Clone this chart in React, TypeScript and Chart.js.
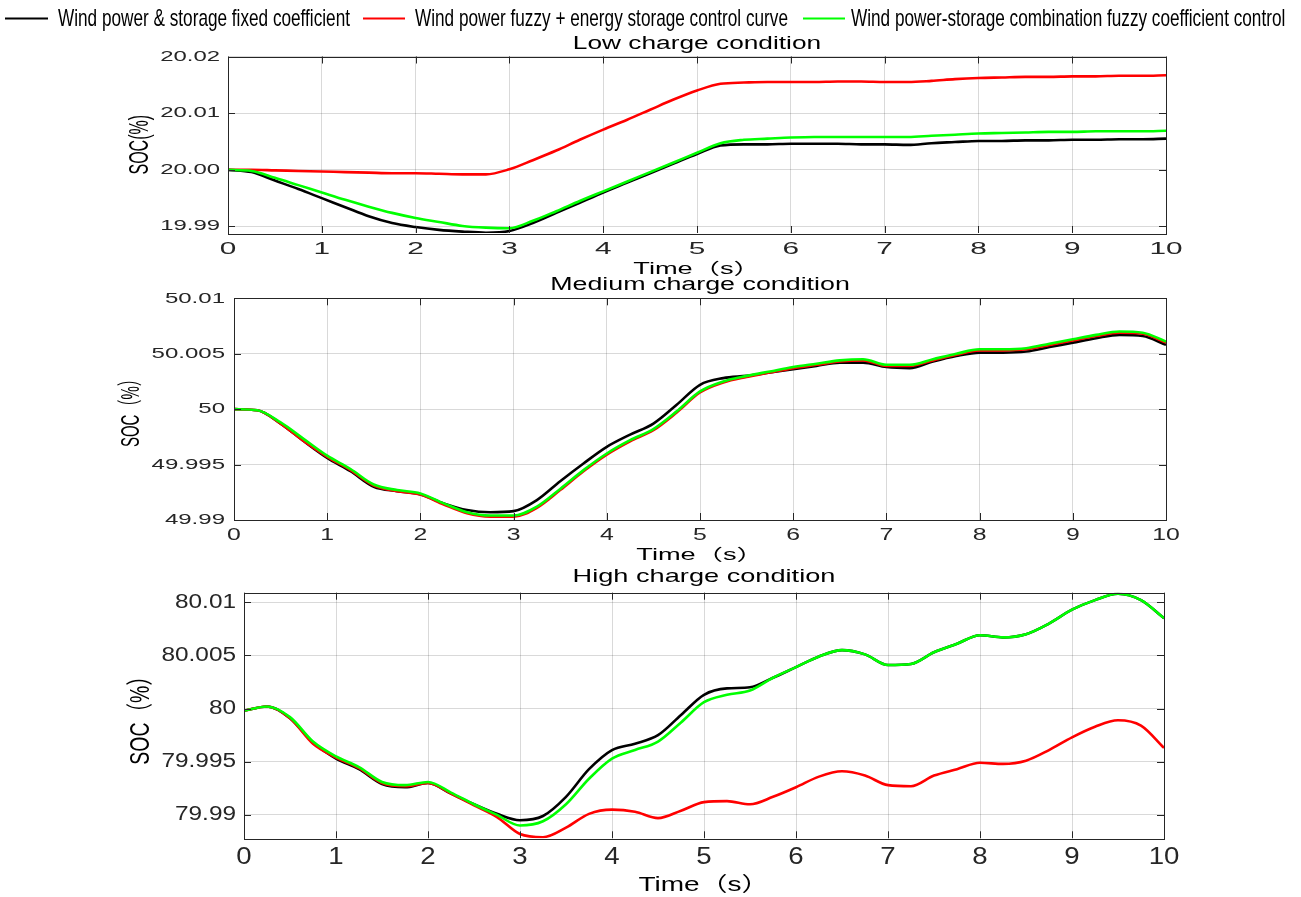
import React, { useEffect, useRef } from "react";
import { Chart, registerables } from "chart.js";

Chart.register(...registerables);

// ---------- DATA ----------
const TIME = [
  0, 0.25, 0.5, 0.75, 1, 1.25, 1.5, 1.75, 2, 2.25, 2.5, 2.75, 3, 3.25, 3.5, 3.75, 4, 4.25, 4.5, 4.75, 5,
  5.25, 5.5, 5.75, 6, 6.25, 6.5, 6.75, 7, 7.25, 7.5, 7.75, 8, 8.25, 8.5, 8.75, 9, 9.25, 9.5, 9.75, 10,
];

const SERIES_NAMES = [
  "Wind power & storage fixed coefficient",
  "Wind power fuzzy + energy storage control curve",
  "Wind power-storage combination fuzzy coefficient control",
];
const SERIES_COLORS = ["#000000", "#ff0000", "#00ff00"];

// Low charge condition
const LOW_FIXED = [
  20.0, 19.9996, 19.9981, 19.9966, 19.995, 19.9934, 19.9918, 19.9906, 19.9899, 19.9894, 19.9891, 19.9889,
  19.9892, 19.9906, 19.9924, 19.9942, 19.996, 19.9977, 19.9994, 20.0011, 20.0028, 20.0043, 20.0045, 20.0045,
  20.0046, 20.0046, 20.0046, 20.0045, 20.0045, 20.0044, 20.0047, 20.0049, 20.0051, 20.0051, 20.0052, 20.0052,
  20.0053, 20.0053, 20.0054, 20.0054, 20.0055,
];
const LOW_FUZZY = [
  20.0, 20.0, 19.9999, 19.9998, 19.9997, 19.9996, 19.9995, 19.9994, 19.9994, 19.9993, 19.9992, 19.9992,
  20.0001, 20.0017, 20.0034, 20.0053, 20.0071, 20.0088, 20.0106, 20.0124, 20.014, 20.0152, 20.0154, 20.0155,
  20.0155, 20.0155, 20.0156, 20.0156, 20.0155, 20.0155, 20.0157, 20.016, 20.0162, 20.0163, 20.0164, 20.0164,
  20.0165, 20.0165, 20.0166, 20.0166, 20.0167,
];
const LOW_COMBO = [
  20.0, 19.9998, 19.9986, 19.9973, 19.996, 19.9947, 19.9935, 19.9924, 19.9915, 19.9908, 19.9901, 19.9898,
  19.9897, 19.991, 19.9927, 19.9945, 19.9962, 19.9979, 19.9996, 20.0013, 20.003, 20.0047, 20.0053, 20.0055,
  20.0057, 20.0058, 20.0058, 20.0058, 20.0058, 20.0058, 20.006, 20.0062, 20.0064, 20.0065, 20.0066, 20.0067,
  20.0067, 20.0068, 20.0068, 20.0068, 20.0069,
];

// Medium charge condition
const MED_FIXED = [
  50.0, 49.9999, 49.9987, 49.9971, 49.9956, 49.9944, 49.993, 49.9926, 49.9923, 49.9915, 49.9909, 49.9907,
  49.9908, 49.9918, 49.9935, 49.9951, 49.9966, 49.9977, 49.9987, 50.0004, 50.0022, 50.0028, 50.003, 50.0033,
  50.0036, 50.0039, 50.0042, 50.0042, 50.0038, 50.0037, 50.0043, 50.0048, 50.0051, 50.0051, 50.0052, 50.0056,
  50.006, 50.0064, 50.0067, 50.0066, 50.0058,
];
const MED_FUZZY = [
  50.0, 49.9999, 49.9987, 49.9971, 49.9957, 49.9945, 49.9931, 49.9926, 49.9923, 49.9914, 49.9906, 49.9903,
  49.9903, 49.9911, 49.9927, 49.9944, 49.9959, 49.9971, 49.9981, 49.9997, 50.0015, 50.0024, 50.0029, 50.0033,
  50.0037, 50.004, 50.0043, 50.0044, 50.0039, 50.0039, 50.0044, 50.0049, 50.0053, 50.0053, 50.0054, 50.0058,
  50.0062, 50.0066, 50.0069, 50.0068, 50.006,
];
const MED_COMBO = [
  50.0, 49.9999, 49.9988, 49.9973, 49.9958, 49.9946, 49.9932, 49.9927, 49.9924, 49.9915, 49.9907, 49.9904,
  49.9904, 49.9912, 49.9928, 49.9945, 49.996, 49.9972, 49.9982, 49.9998, 50.0016, 50.0025, 50.003, 50.0034,
  50.0038, 50.0041, 50.0044, 50.0045, 50.004, 50.004, 50.0045, 50.005, 50.0054, 50.0054, 50.0055, 50.0059,
  50.0063, 50.0067, 50.007, 50.0069, 50.0061,
];

// High charge condition
const HIGH_FIXED = [
  79.9998, 80.0002, 79.9991, 79.9968, 79.9953, 79.9943, 79.9929, 79.9926, 79.993, 79.992, 79.991, 79.9901,
  79.9895, 79.9899, 79.9917, 79.9943, 79.9961, 79.9967, 79.9975, 79.9994, 80.0013, 80.0019, 80.002, 80.0029,
  80.0039, 80.0049, 80.0055, 80.0051, 80.0041, 80.0042, 80.0053, 80.0061, 80.0069, 80.0067, 80.007, 80.008,
  80.0093, 80.0102, 80.0108, 80.0102, 80.0085,
];
const HIGH_FUZZY = [
  79.9998, 80.0002, 79.9991, 79.9967, 79.9954, 79.9944, 79.993, 79.9927, 79.993, 79.992, 79.9909, 79.9898,
  79.9882, 79.9879, 79.9888, 79.9901, 79.9905, 79.9903, 79.9897, 79.9904, 79.9912, 79.9913, 79.991, 79.9917,
  79.9926, 79.9936, 79.9941, 79.9937, 79.9928, 79.9927, 79.9937, 79.9943, 79.9949, 79.9948, 79.9951, 79.9961,
  79.9973, 79.9983, 79.9989, 79.9984, 79.9963,
];
const HIGH_COMBO = [
  79.9998, 80.0002, 79.9992, 79.9969, 79.9955, 79.9945, 79.9931, 79.9928, 79.9931, 79.9921, 79.991, 79.99,
  79.989, 79.9894, 79.991, 79.9934, 79.9953, 79.9961, 79.9969, 79.9987, 80.0006, 80.0013, 80.0017, 80.0029,
  80.0039, 80.0049, 80.0055, 80.0051, 80.0041, 80.0042, 80.0053, 80.0061, 80.0069, 80.0067, 80.007, 80.008,
  80.0093, 80.0102, 80.0108, 80.0102, 80.0085,
];

const X_TICKS = [0, 1, 2, 3, 4, 5, 6, 7, 8, 9, 10];
const X_LABELS = ["0", "1", "2", "3", "4", "5", "6", "7", "8", "9", "10"];

const LOW_Y_TICKS = [19.99, 20.0, 20.01, 20.02];
const LOW_Y_LABELS = ["19.99", "20.00", "20.01", "20.02"];
const MED_Y_TICKS = [49.99, 49.995, 50.0, 50.005, 50.01];
const MED_Y_LABELS = ["49.99", "49.995", "50", "50.005", "50.01"];
const HIGH_Y_TICKS = [79.99, 79.995, 80.0, 80.005, 80.01];
const HIGH_Y_LABELS = ["79.99", "79.995", "80", "80.005", "80.01"];

const TITLES = ["Low charge condition", "Medium charge condition", "High charge condition"];
const X_TITLE = "Time（s）";
const Y_TITLES = ["SOC(%)", "SOC（%）", "SOC（%）"];

// ---------- LAYOUT ----------
const W = 1301;
const FONT = "'Liberation Sans', Arial, 'Noto Sans CJK SC', sans-serif";
const AXIS_COLOR = "#262626";

const PANELS = [
  {
    top: 0, height: 282,
    area: { left: 228, right: 1166, top: 56.5, bottom: 233 },
    yMin: 19.98885, yMax: 20.02, yTicks: LOW_Y_TICKS, yLabels: LOW_Y_LABELS,
    series: [LOW_FIXED, LOW_FUZZY, LOW_COMBO],
    title: TITLES[0], titleY: 44, titleFont: 18, titleSx: 1.46,
    yLabelFont: 14.5, yLabelSx: 1.65, yLabelGap: 8,
    xLabelFont: 17, xLabelSx: 1.75, xLabelY: 249,
    xTitleY: 270, xTitleFont: 16, xTitleSx: 1.7,
    yTitle: Y_TITLES[0], yTitleX: 141, yTitleFont: 16, yTitleSx: 1.7,
    legend: true,
  },
  {
    top: 262, height: 308,
    area: { left: 234, right: 1166, top: 298.3, bottom: 520 },
    yMin: 49.99, yMax: 50.01, yTicks: MED_Y_TICKS, yLabels: MED_Y_LABELS,
    series: [MED_FIXED, MED_FUZZY, MED_COMBO],
    title: TITLES[1], titleY: 285, titleFont: 18, titleSx: 1.49,
    yLabelFont: 15.5, yLabelSx: 1.55, yLabelGap: 9,
    xLabelFont: 16, xLabelSx: 1.55, xLabelY: 536,
    xTitleY: 556, xTitleFont: 16, xTitleSx: 1.7,
    yTitle: Y_TITLES[1], yTitleX: 132, yTitleFont: 15, yTitleSx: 1.7,
    legend: false,
  },
  {
    top: 558, height: 339,
    area: { left: 244, right: 1164, top: 592.7, bottom: 838.3 },
    yMin: 79.9878, yMax: 80.0109, yTicks: HIGH_Y_TICKS, yLabels: HIGH_Y_LABELS,
    series: [HIGH_FIXED, HIGH_FUZZY, HIGH_COMBO],
    title: TITLES[2], titleY: 577, titleFont: 19, titleSx: 1.43,
    yLabelFont: 19.5, yLabelSx: 1.25, yLabelGap: 8,
    xLabelFont: 23, xLabelSx: 1.2, xLabelY: 858,
    xTitleY: 885, xTitleFont: 20, xTitleSx: 1.4,
    yTitle: Y_TITLES[2], yTitleX: 141, yTitleFont: 19.5, yTitleSx: 1.4,
    legend: false,
  },
];

const LEGEND = {
  y: 18, font: 24, sx: 0.716,
  items: [
    { lineX: 5, lineEnd: 48, textX: 58 },
    { lineX: 363, lineEnd: 405, textX: 415 },
    { lineX: 803, lineEnd: 845, textX: 851 },
  ],
};

function drawText(
  ctx: CanvasRenderingContext2D, text: string, x: number, y: number,
  size: number, sx: number, align: CanvasTextAlign, color: string, rotate = false
) {
  ctx.save();
  ctx.font = `${size}px ${FONT}`;
  ctx.fillStyle = color;
  ctx.textBaseline = "middle";
  ctx.textAlign = align;
  ctx.translate(x, y);
  ctx.scale(sx, 1);
  if (rotate) ctx.rotate(-Math.PI / 2);
  ctx.fillText(text, 0, 0);
  ctx.restore();
}

function Panel({ p }: { p: (typeof PANELS)[number] }) {
  const ref = useRef<HTMLCanvasElement | null>(null);
  useEffect(() => {
    const canvas = ref.current;
    if (!canvas) return;
    const off = p.top;
    const decor = {
      id: "decor",
      afterDraw(chart: any) {
        const ctx: CanvasRenderingContext2D = chart.ctx;
        const a = chart.chartArea;
        const xs = chart.scales.x;
        const ys = chart.scales.y;
        ctx.save();
        ctx.strokeStyle = AXIS_COLOR;
        ctx.lineWidth = 1;
        ctx.strokeRect(Math.round(a.left) + 0.5, Math.round(a.top) + 0.5,
          Math.round(a.right - a.left), Math.round(a.bottom - a.top));
        const tl = 7;
        ctx.beginPath();
        X_TICKS.forEach((v) => {
          const px = Math.round(xs.getPixelForValue(v)) + 0.5;
          ctx.moveTo(px, a.bottom); ctx.lineTo(px, a.bottom - tl);
          ctx.moveTo(px, a.top); ctx.lineTo(px, a.top + tl);
        });
        p.yTicks.forEach((v) => {
          const py = Math.round(ys.getPixelForValue(v)) + 0.5;
          ctx.moveTo(a.left, py); ctx.lineTo(a.left + tl, py);
          ctx.moveTo(a.right, py); ctx.lineTo(a.right - tl, py);
        });
        ctx.stroke();
        ctx.restore();
        p.yTicks.forEach((v, i) => {
          drawText(ctx, p.yLabels[i], a.left - p.yLabelGap, ys.getPixelForValue(v),
            p.yLabelFont, p.yLabelSx, "right", AXIS_COLOR);
        });
        X_TICKS.forEach((v, i) => {
          drawText(ctx, X_LABELS[i], xs.getPixelForValue(v), p.xLabelY - off,
            p.xLabelFont, p.xLabelSx, "center", AXIS_COLOR);
        });
        const cx = (a.left + a.right) / 2;
        drawText(ctx, p.title, cx, p.titleY - off, p.titleFont, p.titleSx, "center", "#000");
        drawText(ctx, X_TITLE, cx, p.xTitleY - off, p.xTitleFont, p.xTitleSx, "center", "#000");
        drawText(ctx, p.yTitle, p.yTitleX, (a.top + a.bottom) / 2, p.yTitleFont, p.yTitleSx,
          "center", "#000", true);
        if (p.legend) {
          LEGEND.items.forEach((it, i) => {
            ctx.save();
            ctx.strokeStyle = SERIES_COLORS[i];
            ctx.lineWidth = 2;
            ctx.beginPath();
            ctx.moveTo(it.lineX, LEGEND.y + 0.5);
            ctx.lineTo(it.lineEnd, LEGEND.y + 0.5);
            ctx.stroke();
            ctx.restore();
            drawText(ctx, SERIES_NAMES[i], it.textX, LEGEND.y + 1, LEGEND.font, LEGEND.sx, "left", "#000");
          });
        }
      },
    };
    const orders = [2, 1, 0];
    const chart = new Chart(canvas, {
      type: "line",
      data: {
        datasets: p.series.map((vals, i) => ({
          label: SERIES_NAMES[i],
          data: TIME.map((t, k) => ({ x: t, y: vals[k] })),
          borderColor: SERIES_COLORS[i],
          backgroundColor: SERIES_COLORS[i],
          borderWidth: 2.6,
          pointRadius: 0,
          cubicInterpolationMode: "monotone" as const,
          fill: false,
          order: orders[i],
        })),
      },
      options: {
        animation: false,
        responsive: false,
        devicePixelRatio: 1,
        events: [],
        layout: {
          padding: {
            left: p.area.left,
            right: W - p.area.right,
            top: p.area.top - p.top,
            bottom: p.top + p.height - p.area.bottom,
          },
        },
        plugins: { legend: { display: false }, tooltip: { enabled: false }, title: { display: false } },
        scales: {
          x: {
            type: "linear", min: 0, max: 10,
            afterBuildTicks: (s: any) => { s.ticks = X_TICKS.map((v) => ({ value: v })); },
            afterFit: (s: any) => { s.height = 0; },
            ticks: { display: false },
            grid: { color: "rgba(0,0,0,0.15)", drawTicks: false, lineWidth: 1 },
            border: { display: false },
          },
          y: {
            type: "linear", min: p.yMin, max: p.yMax,
            afterBuildTicks: (s: any) => { s.ticks = p.yTicks.map((v) => ({ value: v })); },
            afterFit: (s: any) => { s.width = 0; },
            ticks: { display: false },
            grid: { color: "rgba(0,0,0,0.15)", drawTicks: false, lineWidth: 1 },
            border: { display: false },
          },
        },
      },
      plugins: [decor],
    } as any);
    return () => chart.destroy();
  }, [p]);
  return (
    <canvas
      ref={ref}
      width={W}
      height={p.height}
      style={{ position: "absolute", left: 0, top: p.top, width: W, height: p.height }}
    />
  );
}

export default function App() {
  return (
    <div style={{ position: "absolute", left: 0, top: 0, width: W, height: 897, background: "#fff", overflow: "hidden" }}>
      {PANELS.map((p, i) => (
        <Panel key={i} p={p} />
      ))}
    </div>
  );
}
